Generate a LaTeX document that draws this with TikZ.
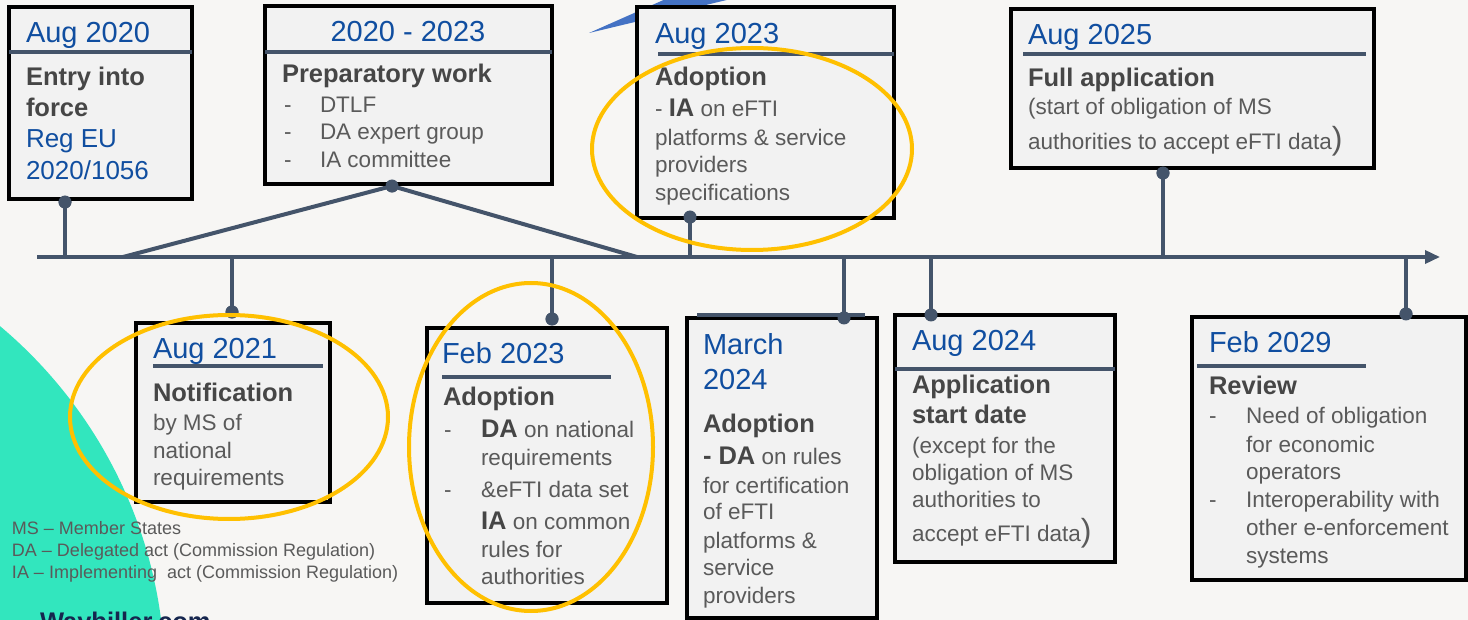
\documentclass[tikz,border=0pt]{standalone}
\usepackage{fontspec}
\setmainfont{Liberation Sans}
\usetikzlibrary{arrows.meta}
\definecolor{bg}{RGB}{247,246,244}
\definecolor{slate}{RGB}{68,84,106}
\definecolor{boxfill}{RGB}{242,242,242}
\definecolor{dateblue}{RGB}{16,78,160}
\definecolor{ttlgray}{RGB}{70,70,70}
\definecolor{bodygray}{RGB}{90,90,90}
\definecolor{mint}{RGB}{50,230,190}
\definecolor{ring}{RGB}{255,192,0}
\definecolor{wedge}{RGB}{68,114,196}
\definecolor{navy}{RGB}{22,38,78}
\newcommand\tline[4]{\node[#1] (#2) at (#3) {#4};}
\newcommand\abbr[1]{{\fontsize{25.5}{30}\selectfont\bfseries\color{ttlgray}#1}}
\newcommand\bigparen{{\fontsize{32}{36}\selectfont )}}
\tikzset{
 txt/.style={anchor=base west, inner sep=0pt, outer sep=0pt},
 date/.style={txt, text=dateblue, font=\fontsize{29}{34}\selectfont},
 ttl/.style={txt, text=ttlgray, font=\fontsize{25.5}{30}\selectfont\bfseries},
 bdy/.style={txt, text=bodygray, font=\fontsize{22.5}{27}\selectfont},
 blu/.style={txt, text=dateblue, font=\fontsize{26}{31}\selectfont},
 leg/.style={txt, text=bodygray, font=\fontsize{18}{22}\selectfont},
 box/.style={draw=black, line width=4pt, fill=boxfill, anchor=north west, inner sep=0pt, outer sep=0pt},
 hdr/.style={draw=slate, line width=4pt},
 conn/.style={draw=slate, line width=4pt},
 dot/.style={circle, fill=slate, minimum size=13pt, inner sep=0pt},
 ringst/.style={draw=ring, line width=4pt},
}
\begin{document}
\begin{tikzpicture}[x=1pt,y=-1pt]
\useasboundingbox (0,0) rectangle (1468,620);
\clip (0,0) rectangle (1468,620);
\fill[bg] (0,0) rectangle (1468,620);
% decorative shapes
\fill[mint] (-297,680) circle [radius=462pt];
\fill[wedge] (589,33) -- (668,-2) -- (735,-2) -- cycle;
% timeline
\coordinate (tlS) at (37,257);
\coordinate (tlE) at (1440,257);
\draw[conn, line width=3.5pt, -{Triangle[length=15pt,width=13pt]}] (tlS) -- (tlE);
% dots and timeline coordinates
\node[dot] (d1) at (65,202) {};
\node[dot] (d2) at (392,186) {};
\node[dot] (d3) at (690,217) {};
\node[dot] (d4) at (1163,173) {};
\node[dot] (d5) at (232,312) {};
\node[dot] (d6) at (552,319) {};
\node[dot] (d7) at (844,318) {};
\node[dot] (d8) at (931,315) {};
\node[dot] (d9) at (1406,314) {};
\coordinate (t1) at (65,257);
\coordinate (t2a) at (123,257);
\coordinate (t2b) at (637,257);
\coordinate (t3) at (690,257);
\coordinate (t4) at (1163,257);
\coordinate (t5) at (232,257);
\coordinate (t6) at (552,257);
\coordinate (t7) at (844,257);
\coordinate (t8) at (931,257);
\coordinate (t9) at (1406,257);
\draw[conn] (d1.center) -- (t1);
\draw[conn] (d2.center) -- (t2a);
\draw[conn] (d2.center) -- (t2b);
\draw[conn] (d3.center) -- (t3);
\draw[conn] (d4.center) -- (t4);
\draw[conn] (d5.center) -- (t5);
\draw[conn] (d6.center) -- (t6);
\draw[conn] (d7.center) -- (t7);
\draw[conn] (d8.center) -- (t8);
\draw[conn] (d9.center) -- (t9);
% boxes
\node[box, minimum width=183pt, minimum height=192pt] (b1) at (9,7) {};
\node[box, minimum width=287pt, minimum height=178pt] (b2) at (265,6) {};
\node[box, minimum width=257pt, minimum height=211pt] (b3) at (637,7) {};
\node[box, minimum width=363pt, minimum height=159pt] (b4) at (1011,9) {};
\node[box, minimum width=194pt, minimum height=179pt] (b5) at (136,323) {};
\node[box, minimum width=240pt, minimum height=275pt] (b6) at (427,328) {};
\node[box, minimum width=190pt, minimum height=300pt] (b7) at (687,318) {};
\node[box, minimum width=220pt, minimum height=247pt] (b8) at (895,315) {};
\node[box, minimum width=274pt, minimum height=263pt] (b9) at (1192,317) {};
% header rules
\draw[hdr] (9,52) -- (192,52);
\draw[hdr] (265,52) -- (552,52);
\draw[hdr] (658,54) -- (894,54);
\draw[hdr] (1023,54) -- (1366,54);
\draw[hdr] (153,366) -- (323,366);
\draw[hdr] (442,377) -- (611,377);
\draw[hdr] (697,315) -- (865,315);
\draw[hdr] (895,369) -- (1115,369);
\draw[hdr] (1197,366) -- (1366,366);
% dots on top again
\fill[slate] (d1) circle [radius=6.5pt];
\fill[slate] (d2) circle [radius=6.5pt];
\fill[slate] (d3) circle [radius=6.5pt];
\fill[slate] (d4) circle [radius=6.5pt];
\fill[slate] (d5) circle [radius=6.5pt];
\fill[slate] (d6) circle [radius=6.5pt];
\fill[slate] (d7) circle [radius=6.5pt];
\fill[slate] (d8) circle [radius=6.5pt];
\fill[slate] (d9) circle [radius=6.5pt];
% box 1
\tline{date}{b1d}{26,43}{Aug 2020}
\tline{ttl}{b1t1}{26,86}{Entry into}
\tline{ttl}{b1t2}{26,117}{force}
\tline{blu}{b1r1}{26,148}{Reg EU}
\tline{blu}{b1r2}{26,180}{2020/1056}
% box 2
\tline{date, anchor=base}{b2d}{408,42}{2020 - 2023}
\tline{ttl}{b2t}{282,83}{Preparatory work}
\tline{bdy}{b2a}{284,113}{-}
\tline{bdy}{b2b}{320,113}{DTLF}
\tline{bdy}{b2c}{284,140}{-}
\tline{bdy}{b2e}{320,140}{DA expert group}
\tline{bdy}{b2f}{284,168}{-}
\tline{bdy}{b2g}{320,168}{IA committee}
% box 3
\tline{date}{b3d}{655,44}{Aug 2023}
\tline{ttl}{b3t}{655,86}{Adoption}
\tline{bdy}{b3a}{655,117}{- \abbr{IA} on eFTI}
\tline{bdy}{b3b}{655,146}{platforms \& service}
\tline{bdy}{b3c}{655,173}{providers}
\tline{bdy}{b3e}{655,201}{specifications}
% box 4
\tline{date}{b4d}{1028,45}{Aug 2025}
\tline{ttl}{b4t}{1028,87}{Full application}
\tline{bdy}{b4a}{1028,115}{(start of obligation of MS}
\tline{bdy}{b4b}{1028,150}{authorities to accept eFTI data\bigparen}
% box 5
\tline{date}{b5d}{153,359}{Aug 2021}
\tline{ttl}{b5t}{153,402}{Notification}
\tline{bdy}{b5a}{153,430}{by MS of}
\tline{bdy}{b5b}{153,458}{national}
\tline{bdy}{b5c}{153,485}{requirements}
% box 6
\tline{date}{b6d}{442,364}{Feb 2023}
\tline{ttl}{b6t}{443,406}{Adoption}
\tline{bdy}{b6a}{444,437}{-}
\tline{bdy}{b6b}{481,437}{\abbr{DA} on national}
\tline{bdy}{b6c}{481,465}{requirements}
\tline{bdy}{b6e}{444,497}{-}
\tline{bdy}{b6f}{481,497}{\&eFTI data set}
\tline{bdy}{b6g}{481,529}{\abbr{IA} on common}
\tline{bdy}{b6h}{481,557}{rules for}
\tline{bdy}{b6i}{481,584}{authorities}
% box 7
\tline{date}{b7d1}{703,355}{March}
\tline{date}{b7d2}{703,389}{2024}
\tline{ttl}{b7t}{703,432}{Adoption}
\tline{bdy}{b7a}{703,464}{\abbr{- DA} on rules}
\tline{bdy}{b7b}{703,493}{for certification}
\tline{bdy}{b7c}{703,519}{of eFTI}
\tline{bdy}{b7e}{703,548}{platforms \&}
\tline{bdy}{b7f}{703,575}{service}
\tline{bdy}{b7g}{703,603}{providers}
% box 8
\tline{date}{b8d}{912,351}{Aug 2024}
\tline{ttl}{b8t1}{912,394}{Application}
\tline{ttl}{b8t2}{912,424}{start date}
\tline{bdy}{b8a}{912,453}{(except for the}
\tline{bdy}{b8b}{912,480}{obligation of MS}
\tline{bdy}{b8c}{912,507}{authorities to}
\tline{bdy}{b8e}{912,541}{accept eFTI data\bigparen}
% box 9
\tline{date}{b9d}{1209,353}{Feb 2029}
\tline{ttl}{b9t}{1209,395}{Review}
\tline{bdy}{b9a}{1209,423}{-}
\tline{bdy}{b9b}{1246,423}{Need of obligation}
\tline{bdy}{b9c}{1246,452}{for economic}
\tline{bdy}{b9e}{1246,479}{operators}
\tline{bdy}{b9f}{1209,507}{-}
\tline{bdy}{b9g}{1246,507}{Interoperability with}
\tline{bdy}{b9h}{1246,535}{other e-enforcement}
\tline{bdy}{b9i}{1246,563}{systems}
% highlight rings
\draw[ringst] (752,149) ellipse [x radius=160pt, y radius=101pt];
\draw[ringst] (229,417) ellipse [x radius=159pt, y radius=102pt];
\draw[ringst] (531,447) ellipse [x radius=122pt, y radius=164pt];
% legend
\tline{leg}{lg1}{12,534}{MS – Member States}
\tline{leg}{lg2}{12,556}{DA – Delegated act (Commission Regulation)}
\tline{leg}{lg3}{12,578}{IA – Implementing\ \ act (Commission Regulation)}
% logo text (cut off at bottom)
\tline{txt, text=navy, font=\fontsize{25.5}{30}\selectfont\bfseries}{logo}{40,630}{Waybiller.com}
\end{tikzpicture}
\end{document}
